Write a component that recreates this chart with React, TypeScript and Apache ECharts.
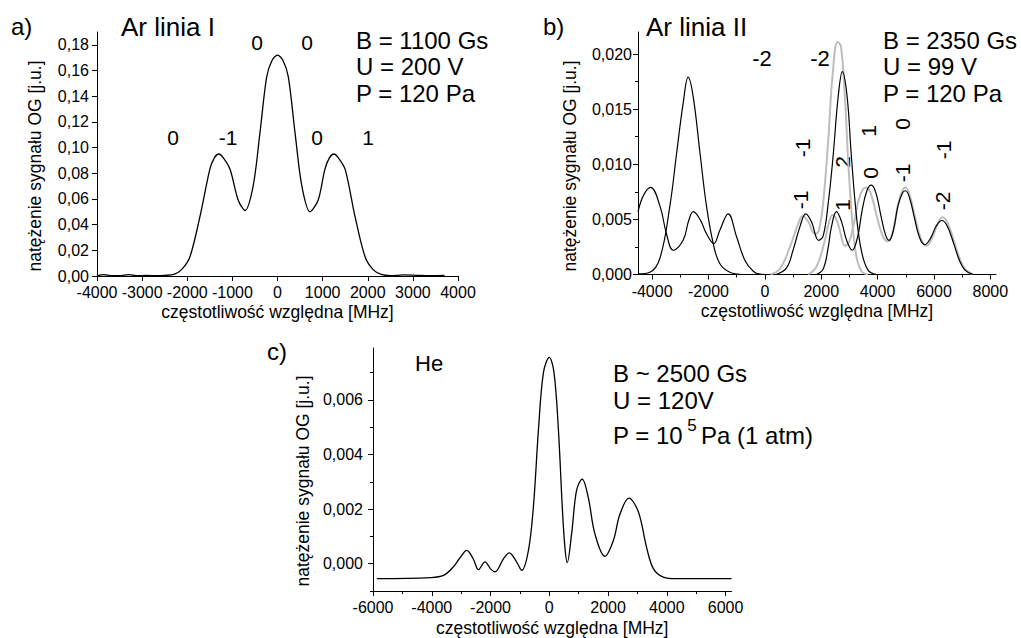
import React, { useEffect, useRef } from 'react';
import * as echarts from 'echarts';

const FONT = '"Liberation Sans", Arial, Helvetica, sans-serif';
const X_NAME = 'częstotliwość względna [MHz]';
const Y_NAME = 'natężenie sygnału OG [j.u.]';

// ---------- panel a) Ar linia I ----------
const aFreq = [-4000, -3850, -3700, -3500, -3300, -3100, -2900, -2700, -2500, -2300, -2120, -1940, -1720, -1500, -1400, -1300, -1200, -1050, -870, -720, -540, -390, -240, -120, 0, 120, 240, 390, 540, 720, 900, 1050, 1150, 1250, 1350, 1500, 1720, 1940, 2120, 2300, 2500, 2800, 3100, 3400, 3700];
const aSignal = [0, 0.001, 0.0003, 0.0002, 0.001, 0.0002, 0.0005, 0.0002, 0.0005, 0.0012, 0.0052, 0.015, 0.046, 0.083, 0.092, 0.095, 0.092, 0.083, 0.059, 0.051, 0.07, 0.111, 0.155, 0.168, 0.172, 0.168, 0.155, 0.111, 0.07, 0.05, 0.059, 0.083, 0.092, 0.095, 0.092, 0.083, 0.046, 0.015, 0.005, 0.0012, 0.0003, 0.0008, 0.0005, 0.0003, 0.0005];
const aXTicks = [-4000, -3000, -2000, -1000, 0, 1000, 2000, 3000, 4000];
const aYTicks = [0, 0.02, 0.04, 0.06, 0.08, 0.1, 0.12, 0.14, 0.16, 0.18];

// ---------- panel b) Ar linia II ----------
const bAFreq = [-4500, -4300, -4050, -3720, -3490, -3250, -2900, -2700, -2540, -2300, -2070, -1810, -1600, -1300, -1000, -710, -410, -180, 200];
const bASignal = [0.0057, 0.0072, 0.0079, 0.0062, 0.0037, 0.0022, 0.0031, 0.0049, 0.0057, 0.005, 0.0037, 0.0028, 0.004, 0.0055, 0.0034, 0.0013, 0.0003, 0.00003, 0];
const bBFreq = [-4500, -4080, -3720, -3370, -3130, -2900, -2720, -2540, -2300, -2070, -1830, -1600, -1240, -770, -400];
const bBSignal = [0.00005, 0.0002, 0.0015, 0.0062, 0.011, 0.0155, 0.0179, 0.0161, 0.011, 0.0062, 0.0028, 0.001, 0.0002, 0, 0];
const bCFreq = [400, 770, 1000, 1240, 1450, 1650, 1910, 2070, 2250, 2420, 2600, 2750, 2920, 3070, 3250, 3430, 3660, 3960];
const bCSignal = [0, 0.0006, 0.0022, 0.0043, 0.0055, 0.0048, 0.0031, 0.0035, 0.0065, 0.0107, 0.0161, 0.0184, 0.0161, 0.0107, 0.0053, 0.0021, 0.0004, 0];
const bDFreq = [1830, 2070, 2250, 2360, 2540, 2720, 2900, 3100, 3290, 3450, 3620, 3780, 3940, 4120, 4280, 4410, 4560, 4720, 4880, 4990, 5140, 5300, 5480, 5670, 5880, 6080, 6280, 6470, 6700, 6900, 7100, 7390];
const bDSignal = [0, 0.0005, 0.0025, 0.0043, 0.0057, 0.0048, 0.0031, 0.0022, 0.0034, 0.0058, 0.0076, 0.0081, 0.0074, 0.0053, 0.0036, 0.0031, 0.004, 0.0062, 0.0074, 0.0076, 0.0069, 0.0052, 0.0034, 0.0027, 0.0033, 0.0044, 0.0049, 0.0044, 0.0028, 0.0013, 0.0004, 0];
const bEFreq = [180, 530, 890, 1180, 1340, 1540, 1770, 1880, 1960, 2070, 2250, 2400, 2580, 2700, 2840, 2960, 3110, 3250, 3430, 3660];
const bESignal = [0, 0.0005, 0.0025, 0.0046, 0.0053, 0.0048, 0.0037, 0.0038, 0.0045, 0.0065, 0.0122, 0.018, 0.0211, 0.0207, 0.0161, 0.0101, 0.0046, 0.0016, 0.0003, 0];
const bFFreq = [1540, 1830, 2130, 2280, 2400, 2520, 2650, 2840, 2980, 3150, 3330, 3500, 3620, 3800, 4000, 4200, 4370, 4550, 4720, 4880, 4990, 5150, 5330, 5530, 5730, 5950, 6130, 6300, 6480, 6700, 6900, 7100, 7390];
const bFSignal = [0, 0.0007, 0.0031, 0.0048, 0.0054, 0.0051, 0.0041, 0.0026, 0.0029, 0.0045, 0.0068, 0.0078, 0.0079, 0.007, 0.005, 0.0034, 0.003, 0.004, 0.0063, 0.0076, 0.0079, 0.0071, 0.0052, 0.0033, 0.0026, 0.0034, 0.0046, 0.0052, 0.0047, 0.0031, 0.0015, 0.0005, 0];
const bXTicks = [-4000, -2000, 0, 2000, 4000, 6000, 8000];
const bXMinor = [-3000, -1000, 1000, 3000, 5000, 7000];
const bYTicks = [0, 0.005, 0.01, 0.015, 0.02];
const bYMinor = [0.0025, 0.0075, 0.0125, 0.0175];

// ---------- panel c) He ----------
const cFreq = [-5870, -4060, -3600, -3270, -3050, -2810, -2590, -2410, -2190, -1990, -1850, -1560, -1360, -1110, -940, -710, -540, -370, -200, 0, 160, 310, 440, 530, 610, 760, 930, 1120, 1330, 1550, 1890, 2180, 2400, 2710, 3030, 3310, 3540, 3880, 4330, 6200];
const cSignal = [-0.00055, -0.00051, -0.00043, -0.00012, 0.0002, 0.00049, 0.00018, -0.00022, 0.00007, -0.0002, -0.0003, 0.00018, 0.0004, 0.00006, -0.00024, 0.00049, 0.0021, 0.0049, 0.007, 0.00756, 0.007, 0.0049, 0.0021, 0.0006, 0.00004, 0.0011, 0.0027, 0.0031, 0.0024, 0.0011, 0.00027, 0.00085, 0.0018, 0.0024, 0.0019, 0.0006, -0.00018, -0.00049, -0.00055, -0.00055];
const cXTicks = [-6000, -4000, -2000, 0, 2000, 4000, 6000];
const cXMinor = [-5000, -3000, -1000, 1000, 3000, 5000];
const cYTicks = [0, 0.002, 0.004, 0.006];
const cYMinor = [-0.001, 0.001, 0.003, 0.005, 0.007];

const zip = (xs: number[], ys: number[]) => xs.map((x, i) => [x, ys[i]]);
const comma = (d: number) => (v: number) => v.toFixed(d).replace('.', ',');

const mainX = (gridIndex: number, min: number, max: number, ticks: number[], nameGap: number, margin: number) => ({
  type: 'value', gridIndex, min, max, position: 'bottom',
  name: X_NAME, nameLocation: 'middle', nameGap,
  nameTextStyle: { fontFamily: FONT, fontSize: 17.5, color: '#000' },
  axisLine: { show: true, onZero: false, lineStyle: { color: '#000', width: 1 } },
  axisTick: { show: true, inside: false, length: 5, customValues: ticks, lineStyle: { color: '#000', width: 1 } },
  axisLabel: { customValues: ticks, formatter: (v: number) => String(v), fontFamily: FONT, fontSize: 16, color: '#000', margin },
  splitLine: { show: false },
});
const minorX = (gridIndex: number, min: number, max: number, ticks: number[]) => ({
  type: 'value', gridIndex, min, max, position: 'bottom',
  axisLine: { show: false, onZero: false },
  axisTick: { show: true, inside: false, length: 3, customValues: ticks, lineStyle: { color: '#000', width: 1 } },
  axisLabel: { show: false }, splitLine: { show: false },
});
const mainY = (gridIndex: number, min: number, max: number, ticks: number[], dec: number, margin: number) => ({
  type: 'value', gridIndex, min, max, position: 'left',
  axisLine: { show: true, onZero: false, lineStyle: { color: '#000', width: 1 } },
  axisTick: { show: true, inside: false, length: 5, customValues: ticks, lineStyle: { color: '#000', width: 1 } },
  axisLabel: { customValues: ticks, formatter: comma(dec), fontFamily: FONT, fontSize: 16, color: '#000', margin },
  splitLine: { show: false },
});
const minorY = (gridIndex: number, min: number, max: number, ticks: number[]) => ({
  type: 'value', gridIndex, min, max, position: 'left',
  axisLine: { show: false, onZero: false },
  axisTick: { show: true, inside: false, length: 3, customValues: ticks, lineStyle: { color: '#000', width: 1 } },
  axisLabel: { show: false }, splitLine: { show: false },
});

const line = (xi: number, yi: number, data: number[][], color: string, width: number, smooth: number, z: number) => ({
  type: 'line', xAxisIndex: xi, yAxisIndex: yi, data, showSymbol: false, symbol: 'none', smooth,
  lineStyle: { color, width }, silent: true, z,
});

const t = (text: string, x: number, y: number, size: number, align = 'left', rotation = 0) => ({
  type: 'text', x, y, rotation, silent: true,
  style: {
    text, fill: '#000', fontFamily: FONT, fontSize: size,
    align, textAlign: align, verticalAlign: 'middle', textVerticalAlign: 'middle',
  },
});

const R = Math.PI / 2;

export default function App() {
  const ref = useRef<HTMLDivElement>(null);
  useEffect(() => {
    if (!ref.current) return;
    const chart = echarts.init(ref.current, null, { renderer: 'svg' });
    const option: any = {
      animation: false,
      backgroundColor: '#fff',
      grid: [
        { left: 97, top: 32, width: 361, height: 244, outerBoundsMode: 'none', containLabel: false },
        { left: 638, top: 32, width: 358, height: 242.5, outerBoundsMode: 'none', containLabel: false },
        { left: 373, top: 348, width: 358.5, height: 243, outerBoundsMode: 'none', containLabel: false },
      ],
      xAxis: [
        mainX(0, -4000, 4000, aXTicks, 27, 8),
        mainX(1, -4500, 8200, bXTicks, 27, 9),
        minorX(1, -4500, 8200, bXMinor),
        mainX(2, -6000, 6200, cXTicks, 28, 8),
        minorX(2, -6000, 6200, cXMinor),
      ],
      yAxis: [
        mainY(0, 0, 0.19, aYTicks, 2, 8),
        mainY(1, 0, 0.022, bYTicks, 3, 6),
        minorY(1, 0, 0.022, bYMinor),
        mainY(2, -0.001, 0.0079, cYTicks, 3, 10),
        minorY(2, -0.001, 0.0079, cYMinor),
      ],
      series: [
        line(0, 0, zip(aFreq, aSignal), '#000', 1.3, 0.3, 3),
        line(1, 1, zip(bEFreq, bESignal), '#bdbdbd', 2, 0.4, 2),
        line(1, 1, zip(bFFreq, bFSignal), '#bdbdbd', 2, 0.4, 2),
        line(1, 1, zip(bAFreq, bASignal), '#000', 1.2, 0.4, 3),
        line(1, 1, zip(bBFreq, bBSignal), '#000', 1.2, 0.4, 3),
        line(1, 1, zip(bCFreq, bCSignal), '#000', 1.2, 0.4, 3),
        line(1, 1, zip(bDFreq, bDSignal), '#000', 1.2, 0.4, 3),
        line(3, 3, zip(cFreq, cSignal), '#000', 1.3, 0.35, 3),
      ],
      graphic: [
        // y-axis names
        t(Y_NAME, 35, 166, 17.5, 'center', R),
        t(Y_NAME, 570, 166, 17.5, 'center', R),
        t(Y_NAME, 303, 481, 17.5, 'center', R),
        // panel a
        t('a)', 11, 26, 24),
        t('Ar linia I', 121, 27, 26),
        t('B = 1100 Gs', 356, 40, 24),
        t('U = 200 V', 356, 66.5, 24),
        t('P = 120 Pa', 356, 93, 24),
        t('0', 257, 42, 21, 'center'),
        t('0', 307, 42, 21, 'center'),
        t('0', 173, 137, 21, 'center'),
        t('-1', 228, 137, 21, 'center'),
        t('0', 317, 137, 21, 'center'),
        t('1', 368, 137, 21, 'center'),
        // panel b
        t('b)', 543, 26, 24),
        t('Ar linia II', 646, 27, 26),
        t('B = 2350 Gs', 883, 40, 24),
        t('U = 99 V', 883, 66.5, 24),
        t('P = 120 Pa', 883, 93, 24),
        t('-2', 762, 58, 22, 'center'),
        t('-2', 820, 58, 22, 'center'),
        t('-1', 802, 148, 21, 'center', R),
        t('-1', 800, 200, 21, 'center', R),
        t('2', 842, 162, 21, 'center', R),
        t('1', 842, 205, 21, 'center', R),
        t('1', 868, 131, 21, 'center', R),
        t('0', 870, 173, 21, 'center', R),
        t('0', 902, 124, 21, 'center', R),
        t('-1', 902, 173, 21, 'center', R),
        t('-1', 943, 150, 21, 'center', R),
        t('-2', 942, 201, 21, 'center', R),
        // panel c
        t('c)', 267, 351, 24),
        t('He', 415, 363, 22),
        t('B ~ 2500 Gs', 613, 373, 24),
        t('U = 120V', 613, 400, 24),
        t('P = 10', 613, 435, 24),
        t('5', 692, 425, 17, 'center'),
        t('Pa (1 atm)', 701, 435, 24),
      ],
    };
    chart.setOption(option);
    return () => chart.dispose();
  }, []);
  return (
    <div
      ref={ref}
      style={{ position: 'fixed', left: 0, top: 0, width: 1021, height: 638, background: '#fff' }}
    />
  );
}
